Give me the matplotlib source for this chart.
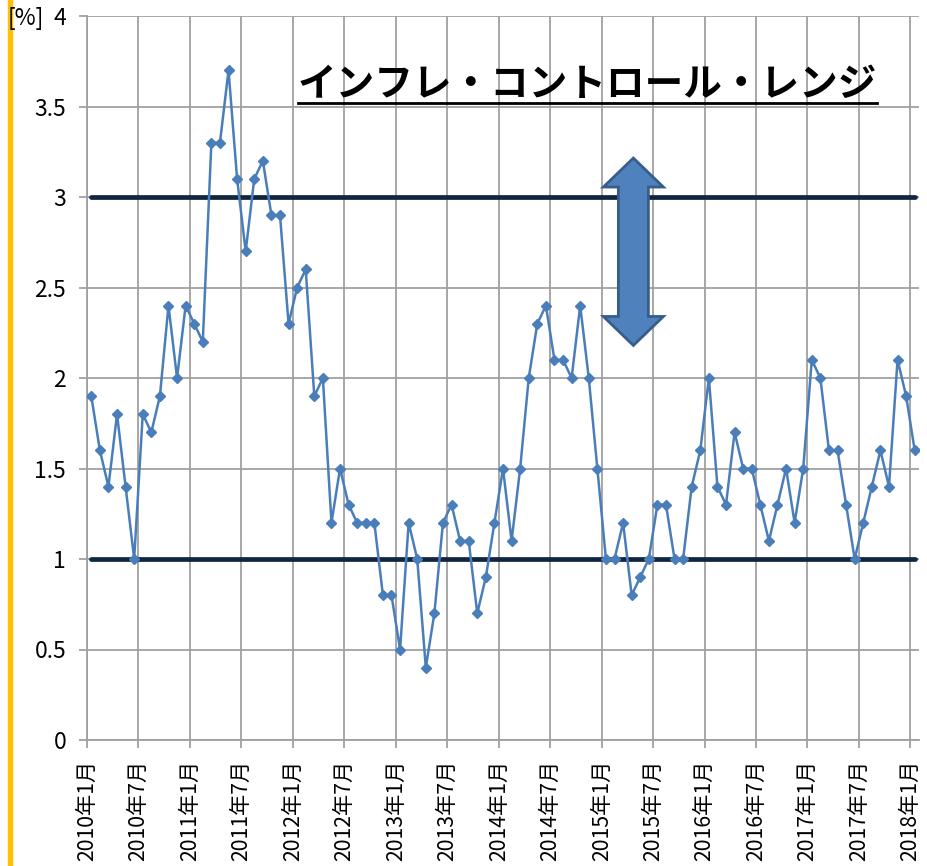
import matplotlib
matplotlib.use('Agg')
import matplotlib.pyplot as plt
from matplotlib.patches import Polygon, Rectangle
from matplotlib.lines import Line2D
import numpy as np

plt.rcParams['font.family'] = ['Noto Sans CJK JP', 'DejaVu Sans']

# monthly inflation, 2010-01 .. 2018-01 [%]
inflation = [1.9, 1.6, 1.4, 1.8, 1.4, 1.0, 1.8, 1.7, 1.9, 2.4, 2.0, 2.4, 2.3, 2.2,
             3.3, 3.3, 3.7, 3.1, 2.7, 3.1, 3.2, 2.9, 2.9, 2.3, 2.5, 2.6,
             1.9, 2.0, 1.2, 1.5, 1.3, 1.2, 1.2, 1.2, 0.8, 0.8,
             0.5, 1.2, 1.0, 0.4, 0.7, 1.2, 1.3, 1.1, 1.1, 0.7, 0.9, 1.2,
             1.5, 1.1, 1.5, 2.0, 2.3, 2.4, 2.1, 2.1, 2.0, 2.4, 2.0, 1.5, 1.0, 1.0,
             1.2, 0.8, 0.9, 1.0, 1.3, 1.3, 1.0, 1.0, 1.4, 1.6, 2.0, 1.4,
             1.3, 1.7, 1.5, 1.5, 1.3, 1.1, 1.3, 1.5, 1.2, 1.5, 2.1, 2.0,
             1.6, 1.6, 1.3, 1.0, 1.2, 1.4, 1.6, 1.4, 2.1, 1.9, 1.6]
range_low = 1.0
range_high = 3.0

tick_labels = ['2010年1月', '2010年7月', '2011年1月', '2011年7月', '2012年1月',
               '2012年7月', '2013年1月', '2013年7月', '2014年1月', '2014年7月',
               '2015年1月', '2015年7月', '2016年1月', '2016年7月', '2017年1月',
               '2017年7月', '2018年1月']
ytick_labels = ['0', '0.5', '1', '1.5', '2', '2.5', '3', '3.5', '4']
title = 'インフレ・コントロール・レンジ'

n = len(inflation)
x = np.arange(n) + 0.5  # points sit between the month ticks

fig = plt.figure(figsize=(9.28, 8.66), dpi=100)
ax = fig.add_axes([87/928, 1-740/866, (919-87)/928, (740-16)/866])

grid_c = '#A0A0A0'
ax.set_xlim(0, n)
ax.set_ylim(0, 4)
ax.set_xticks(np.arange(0, n, 6))
ax.set_xticklabels(tick_labels, rotation=90, fontsize=15.3)
ax.set_yticks(np.arange(0, 4.01, 0.5))
ax.set_yticklabels(ytick_labels, fontsize=16.5)
ax.grid(True, color=grid_c, lw=1.3)
ax.set_axisbelow(True)
for s in ['top', 'right']:
    ax.spines[s].set_visible(False)
for s in ['left', 'bottom']:
    ax.spines[s].set_color(grid_c)
    ax.spines[s].set_linewidth(1.3)
ax.tick_params(axis='both', color=grid_c, width=1.3, length=6)
ax.tick_params(axis='y', pad=9)
ax.tick_params(axis='x', pad=8)

# control range
for lvl in [range_low, range_high]:
    ax.plot([x[0], x[-1]], [lvl, lvl], color='#10253F', lw=3.4,
            solid_capstyle='round', zorder=3)

ax.plot(x, inflation, color='#4A7EBB', lw=1.8, marker='D', ms=4.6,
        mec='#4A7EBB', zorder=4)

# double arrow between the two lines
cx, hw, sw = 63.7, 3.5, 1.75
top, bot, hl = 3.215, 2.18, 0.16
arrow_xy = [(cx, top), (cx+hw, top-hl), (cx+sw, top-hl), (cx+sw, bot+hl),
            (cx+hw, bot+hl), (cx, bot), (cx-hw, bot+hl), (cx-sw, bot+hl),
            (cx-sw, top-hl), (cx-hw, top-hl)]
ax.add_patch(Polygon(arrow_xy, closed=True, fc='#4F81BD', ec='#385D8A',
                     lw=2, zorder=5))

t = ax.text(24.6, 3.62, title, fontsize=27.8, fontweight='bold', va='center',
            ha='left', zorder=6)

fig.text(8/928, 1-18/866, '[%]', fontsize=16.5, va='center', ha='left')

# yellow slide bar on the left
fig.add_artist(Rectangle((7.5/928, 0), 4/928, 1, transform=fig.transFigure,
                         color='#FFC000'))

# underline the title
fig.canvas.draw()
bb = t.get_window_extent()
uy = bb.y0 + 1
fig.add_artist(Line2D([bb.x0/928, bb.x1/928], [uy/866, uy/866],
                      transform=fig.transFigure, color='black', lw=2))

fig.savefig('out.png', dpi=100)
